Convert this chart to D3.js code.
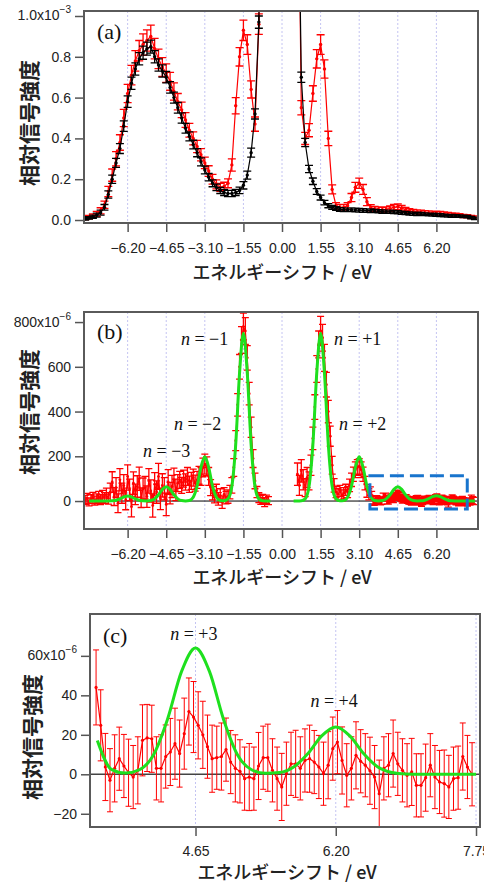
<!DOCTYPE html>
<html>
<head>
<meta charset="utf-8">
<script src="https://cdn.jsdelivr.net/npm/d3@7"></script>
<style>
body { margin: 0; background: #fff; }
svg { display: block; }
</style>
</head>
<body>
<svg width="484" height="883"></svg>
<script>
// ---- (a) raw spectra, one value every 0.155 eV starting at -7.905 eV ----
var aStart = -7.905, aStep = 0.155;
var aRed = [
  0.010, 0.014, 0.020, 0.030, 0.045, 0.075, 0.14, 0.22, 0.30, 0.38, 0.50, 0.62, 0.71, 0.78, 0.83, 0.86, 0.88, 0.90,
  0.84, 0.79, 0.75, 0.72, 0.68, 0.63, 0.58, 0.54, 0.49, 0.44, 0.40, 0.36, 0.32, 0.28,
  0.24, 0.20, 0.175, 0.16, 0.165, 0.18,
  0.27, 0.56, 0.80, 0.93, 0.86, 0.64, 0.47,
  0.96, 2.2, 5, 9, 14, 18, 20, 18, 14, 9, 2.1,
  0.55, 0.40, 0.44, 0.62, 0.79, 0.86, 0.74, 0.40, 0.15,
  0.07, 0.062, 0.062, 0.07, 0.11, 0.16, 0.18, 0.15, 0.09, 0.06,
  0.055, 0.052, 0.05, 0.052, 0.056, 0.062, 0.065, 0.058, 0.05, 0.045, 0.042, 0.04, 0.038, 0.036,
  0.035, 0.034, 0.033, 0.032, 0.03, 0.028, 0.026, 0.024, 0.022, 0.02, 0.018, 0.015, 0.012
];
var aRedErr = [
  0.008, 0.008, 0.01, 0.012, 0.015, 0.018,
  0.025, 0.03, 0.035, 0.038, 0.042, 0.045, 0.048, 0.05, 0.05, 0.052, 0.052, 0.055,
  0.05, 0.048, 0.046, 0.045, 0.044, 0.042, 0.04, 0.038, 0.036, 0.034, 0.032, 0.03, 0.03, 0.028,
  0.026, 0.024, 0.022, 0.02, 0.02, 0.022,
  0.03, 0.04, 0.045, 0.05, 0.048, 0.042, 0.035,
  0.05, 0.05, 0.05, 0.05, 0.05, 0.05, 0.05, 0.05, 0.05, 0.05, 0.05,
  0.035, 0.03, 0.032, 0.038, 0.045, 0.048, 0.045, 0.035, 0.022,
  0.015, 0.014, 0.014, 0.015, 0.02, 0.024, 0.025, 0.024, 0.02, 0.015,
  0.012, 0.012, 0.012, 0.012, 0.013, 0.014, 0.014, 0.013, 0.012, 0.011, 0.01, 0.01, 0.01, 0.01,
  0.01, 0.01, 0.01, 0.01, 0.01, 0.009, 0.009, 0.009, 0.009, 0.008, 0.008, 0.008, 0.008
];
var aBlack = [
  0.006, 0.01, 0.016, 0.024, 0.036, 0.062, 0.125, 0.20, 0.28, 0.35, 0.46, 0.58, 0.67, 0.74, 0.79, 0.82, 0.84, 0.85,
  0.80, 0.76, 0.73, 0.70, 0.65, 0.60, 0.55, 0.50, 0.45, 0.41, 0.37, 0.33, 0.285, 0.245,
  0.21, 0.18, 0.16, 0.145, 0.135, 0.13,
  0.13, 0.135, 0.145, 0.17, 0.22, 0.33, 0.52,
  0.97, 2.5, 6, 11, 16, 20, 22, 20, 16, 11, 2.0,
  0.70, 0.38, 0.25, 0.19, 0.14, 0.11, 0.085, 0.07, 0.062,
  0.056, 0.052, 0.05, 0.05, 0.05, 0.049, 0.048, 0.047, 0.046, 0.045,
  0.044, 0.043, 0.041, 0.04, 0.04, 0.039, 0.038, 0.036, 0.034, 0.032, 0.031, 0.03, 0.029, 0.028,
  0.027, 0.026, 0.025, 0.024, 0.022, 0.021, 0.02, 0.02, 0.019, 0.018, 0.017, 0.012, 0.008
];
var aBlackErr = [
  0.006, 0.006, 0.008, 0.01, 0.012, 0.014,
  0.018, 0.02, 0.022, 0.024, 0.026, 0.028, 0.03, 0.03, 0.03, 0.032, 0.032, 0.032,
  0.03, 0.03, 0.03, 0.028, 0.028, 0.027, 0.026, 0.025, 0.024, 0.022, 0.021, 0.02, 0.02, 0.019,
  0.018, 0.017, 0.016, 0.015, 0.015, 0.015,
  0.015, 0.015, 0.016, 0.018, 0.02, 0.022, 0.025,
  0.03, 0.03, 0.03, 0.03, 0.03, 0.03, 0.03, 0.03, 0.03, 0.03, 0.03,
  0.025, 0.02, 0.018, 0.016, 0.014, 0.012, 0.011, 0.01, 0.01,
  0.009, 0.009, 0.009, 0.009, 0.009, 0.009, 0.009, 0.009, 0.009, 0.009,
  0.008, 0.008, 0.008, 0.008, 0.008, 0.008, 0.008, 0.008, 0.008, 0.008, 0.008, 0.008, 0.008, 0.007,
  0.007, 0.007, 0.007, 0.007, 0.007, 0.007, 0.007, 0.006, 0.006, 0.006, 0.006, 0.006, 0.006
];

// ---- (b) difference spectrum (x10^-6), every 0.0775 eV ----
var bNegStart = -7.905, bPosStart = 0.62, bStep = 0.0775;
var bNeg = [
  5, 12, -4, 8, 15, 2, 10, 18, 6, 22, 14, 30, 12,
  40, 85, 20, 60, -10, 95, 35, 70, 5, 110, 50, -25, 80, 30, 65, 100, 15, 55,
  60, 20, 90, 45, -20, 75, 40, 110, 10, 70, 55, -15, 85, 35, 65, 95, 50,
  80, 95, 70, 100, 85, 110, 75, 90, 105, 80, 95, 115,
  110, 150, 165, 155, 110, 60,
  35, 20, 45, 10, 25, -5, 30, 15, 20, 40,
  70, 150, 270, 430, 600, 720, 780, 760, 640, 480, 330, 190, 90,
  40, 15, 5, 10, -5, 8, 2
];
var bNegErr = [
  20, 22, 18, 20, 24, 20, 22, 25, 22, 26, 24, 28, 26,
  40, 46, 40, 45, 42, 50, 45, 48, 44, 52, 48, 46, 50, 46, 48, 52, 44, 48,
  50, 48, 55, 50, 52, 52, 50, 58, 48, 52, 50, 50, 55, 48, 50, 52, 48,
  38, 38, 36, 38, 36, 40, 36, 38, 38, 36, 38, 40,
  40, 42, 45, 42, 40, 36,
  30, 28, 30, 28, 30, 28, 30, 28, 30, 30,
  35, 40, 45, 50, 55, 60, 60, 60, 55, 50, 45, 40, 35,
  25, 22, 20, 20, 20, 18, 18
];
var bPos = [
  120, 70, 135, 95, 60, 105,
  90, 160, 280, 420, 590, 700, 760, 730, 640, 520, 400, 290, 160,
  70, 40, 30, 45, 25, 35, 50, 40, 70, 95, 120, 140, 150, 155, 140, 120, 80, 45, 30
];
var bPosErr = [
  50, 45, 50, 45, 40, 45,
  40, 45, 50, 55, 60, 60, 65, 60, 60, 55, 50, 45, 40,
  30, 25, 25, 25, 25, 25, 25, 25, 28, 30, 32, 35, 35, 35, 35, 32, 30, 28, 25
];

// ---- (c) high-energy part (x10^-6), every 0.0513 eV from 3.551 eV ----
var cStart = 3.551, cStep = 0.0513;
var cVal = [
  44, 24.8, 3.7, -3.0, 3, 7.9, 4.2, 0.8, -1.4, 2,
  17.2, 18.4, 18, 3, 3, 9, 11.3, 15.5, 10.5, 20.6,
  31.8, 29, 24.8, 20, 14, 7.9, 8.4, 9, 12.5, 6.2,
  3, 1.5, -2.2, -1.4, -2.2, 4.2, 8.4, 8.4, 2, -2.2,
  -6.4, 0.3, 5.3, 5.3, 3, 7, 7.9, 6.2, 3.7, 0.3,
  4.6, 13, 16.3, 7, -0.5, 3, 9.6, 6.6, 4.6, 1.8,
  -1.4, -9.8, 3, 4.6, 10.5, 5.3, 2, -0.5, 1.2, -5.6,
  -5.6, -1.7, 4.6, -1.4, -3.9, -4.7, -6.4, -2.2, -1.7, 9,
  3.7, 0
];
var cErr = [
  19, 18, 17, 16, 17, 16, 16, 17, 16, 17,
  18, 17, 17, 16, 17, 16, 17, 18, 17, 18,
  17, 18, 17, 17, 16, 17, 16, 17, 16, 16,
  17, 16, 16, 17, 16, 17, 16, 17, 16, 16,
  17, 16, 16, 17, 16, 16, 17, 16, 16, 16,
  17, 16, 16, 17, 16, 16, 17, 16, 16, 17,
  16, 17, 16, 16, 17, 16, 16, 16, 17, 16,
  16, 17, 16, 16, 16, 17, 16, 16, 16, 17,
  16, 16
];

// ---- fitted curve (x10^-6), every 0.155 eV ----
var fitStep = 0.155, fitNegStart = -7.75, fitPosStart = 0.465;
var fitNeg = [
  0, 0, 0, 0, 0.1, 0.1, 0.8, 3.4, 9.5, 17.9, 22, 17.9, 9.5, 3.4, 0.8,
  0.5, 2.3, 9.8, 27.8, 52, 64, 52, 27.8, 9.8, 2.3,
  0.6, 2.5, 17.1, 66.5, 150.9, 198, 150.9, 66.5, 17.1, 2.5,
  1.0, 9.6, 64.7, 252, 571.5, 750, 571.5, 252, 64.7, 9.6, 0.8, 0, 0
];
var fitPos = [
  0, 0, 0.8, 9.6, 64.7, 252, 571.5, 750, 571.5, 252, 64.7, 9.6, 1.0,
  2.5, 17.1, 66.5, 150.9, 198, 150.9, 66.5, 17.1, 2.5, 0.6,
  2.3, 9.8, 27.8, 52, 64, 52, 27.8, 9.8, 2.3, 0.5,
  0.9, 3.7, 10.4, 19.5, 24, 19.5, 10.4, 3.7, 0.9, 0.1, 0, 0, 0, 0, 0
];

// ---- ticks and labels ----
var xTicksAB = [-6.2, -4.65, -3.1, -1.55, 0, 1.55, 3.1, 4.65, 6.2];
var xTicksC = [4.65, 6.2, 7.75];
var yTicksA = [0, 0.2, 0.4, 0.6, 0.8, 1.0];
var yTicksB = [0, 200, 400, 600, 800];
var yTicksC = [-20, 0, 20, 40, 60];
var peakLabelsB = [
  { n: "−1", x: -4.06, y: 697 },
  { n: "+1", x: 2.09, y: 697 },
  { n: "−2", x: -4.34, y: 317 },
  { n: "+2", x: 2.29, y: 317 },
  { n: "−3", x: -5.58, y: 197 }
];
var peakLabelsC = [
  { n: "+3", x: 4.37, y: 68 },
  { n: "+4", x: 5.92, y: 34 }
];
var zoomBox = { x0: 3.53, x1: 7.44, y0: -36, y1: 113 };

var RED = "#ff0000", GREEN = "#1ee01e";
var svg = d3.select("svg");
var defs = svg.append("defs");

function series(start, step, vals, errs) {
  return vals.map(function (v, i) {
    return { x: start + i * step, v: v, e: errs ? errs[i] : null };
  });
}

function makePanel(p) {
  var x = d3.scaleLinear().domain(p.xDomain).range([p.left, p.right]);
  var y = d3.scaleLinear().domain(p.yDomain).range([p.bottom, p.top]);
  var g = svg.append("g");
  defs.append("clipPath").attr("id", p.id).append("rect")
    .attr("x", p.left).attr("y", p.top).attr("width", p.right - p.left).attr("height", p.bottom - p.top);

  g.append("g").selectAll("line").data(p.xTicks).join("line")
    .attr("x1", x).attr("x2", x).attr("y1", p.top).attr("y2", p.bottom)
    .attr("stroke", "#c4c4f2").attr("stroke-dasharray", "2,2");

  var xa = g.append("g").attr("transform", "translate(0," + p.bottom + ")")
    .call(d3.axisBottom(x).tickValues(p.xTicks).tickFormat(d3.format(".2f")).tickSize(9).tickPadding(p.xPad || 11));
  var ya = g.append("g").attr("transform", "translate(" + p.left + ",0)")
    .call(d3.axisLeft(y).tickValues(p.yTicks).tickFormat(p.yFormat).tickSize(9).tickPadding(4));
  [xa, ya].forEach(function (a) {
    a.select(".domain").remove();
    a.attr("font-family", "'Liberation Sans', Arial, sans-serif").attr("font-size", 14);
    a.selectAll(".tick line").attr("stroke", "#555").attr("stroke-width", 1.5);
    a.selectAll(".tick text").attr("fill", "#222");
  });
  // top tick carries the exponent
  ya.selectAll(".tick text").filter(function (d) { return d === p.yTicks[p.yTicks.length - 1]; })
    .text(null)
    .each(function (d) {
      var t = d3.select(this);
      t.append("tspan").attr("dy", 4).text(p.yFormat(d) + "x10");
      t.append("tspan").attr("dy", -7).attr("font-size", 10).text(p.exp);
    });

  g.append("text")
    .attr("transform", "translate(" + p.yTitleX + "," + p.yTitleY + ") rotate(-90)")
    .attr("text-anchor", "middle").attr("dominant-baseline", "central")
    .attr("font-family", "'Noto Sans CJK JP', sans-serif").attr("font-size", 21).attr("font-weight", 600)
    .attr("fill", "#222")
    .text("相対信号強度");
  g.append("text")
    .attr("x", p.xTitleX).attr("y", p.xTitleY).attr("text-anchor", "middle")
    .attr("font-family", "'Noto Sans CJK JP', sans-serif").attr("font-size", 18).attr("font-weight", 500)
    .attr("fill", "#222")
    .text("エネルギーシフト / eV");

  var plot = g.append("g").attr("clip-path", "url(#" + p.id + ")");
  return { x: x, y: y, g: g, plot: plot, p: p };
}

function drawFrame(pn) {
  var p = pn.p;
  pn.g.append("rect").attr("x", p.left).attr("y", p.top)
    .attr("width", p.right - p.left).attr("height", p.bottom - p.top)
    .attr("fill", "none").attr("stroke", "#5a5a5a").attr("stroke-width", 2);
  pn.g.append("text").attr("x", p.tagX).attr("y", p.tagY)
    .attr("font-family", "'Liberation Serif', 'Times New Roman', serif").attr("font-size", 22).attr("fill", "#111")
    .text(p.tag);
}

function errorSeries(pn, data, color, capW, r, w) {
  var x = pn.x, y = pn.y;
  var s = pn.plot.append("g");
  s.append("path")
    .attr("d", data.filter(function (d) { return d.v != null; }).map(function (d) {
      var px = x(d.x), yt = y(d.v + d.e), yb = y(d.v - d.e), h = capW / 2;
      return "M" + (px - h) + "," + yt + "H" + (px + h) + "M" + px + "," + yt + "V" + yb +
        "M" + (px - h) + "," + yb + "H" + (px + h);
    }).join(""))
    .attr("fill", "none").attr("stroke", color).attr("stroke-width", w);
  s.append("path").datum(data)
    .attr("d", d3.line().defined(function (d) { return d.v != null; })
      .x(function (d) { return x(d.x); }).y(function (d) { return y(d.v); }))
    .attr("fill", "none").attr("stroke", color).attr("stroke-width", 1.2);
  s.selectAll("circle").data(data.filter(function (d) { return d.v != null; })).join("circle")
    .attr("cx", function (d) { return x(d.x); }).attr("cy", function (d) { return y(d.v); })
    .attr("r", r).attr("fill", color);
}

function fitLine(pn, data) {
  pn.plot.append("path").datum(data)
    .attr("d", d3.line().curve(d3.curveMonotoneX)
      .x(function (d) { return pn.x(d.x); }).y(function (d) { return pn.y(d.v); }))
    .attr("fill", "none").attr("stroke", GREEN).attr("stroke-width", 3).attr("stroke-linejoin", "round");
}

function zeroLine(pn, color, w) {
  pn.plot.append("line")
    .attr("x1", pn.p.left).attr("x2", pn.p.right).attr("y1", pn.y(0)).attr("y2", pn.y(0))
    .attr("stroke", color).attr("stroke-width", w);
}

function peakLabels(pn, labels) {
  labels.forEach(function (d) {
    var t = pn.g.append("text").attr("x", pn.x(d.x)).attr("y", pn.y(d.y))
      .attr("font-family", "'Liberation Serif', 'Times New Roman', serif").attr("font-size", 18).attr("fill", "#111");
    t.append("tspan").attr("font-style", "italic").text("n");
    t.append("tspan").text(" = " + d.n);
  });
}

// ---- panel (a) ----
var pa = makePanel({
  id: "clipA", left: 84, right: 478, top: 11, bottom: 223,
  xDomain: [-7.952, 7.871], yDomain: [-0.0147, 1.0245],
  xTicks: xTicksAB, yTicks: yTicksA, yFormat: d3.format(".1f"), exp: "−3",
  yTitleX: 28, yTitleY: 123, xTitleX: 282, xTitleY: 279,
  tag: "(a)", tagX: 97, tagY: 39
});
errorSeries(pa, series(aStart, aStep, aRed, aRedErr), RED, 8, 1.7, 1.3);
errorSeries(pa, series(aStart, aStep, aBlack, aBlackErr), "#000", 8, 1.7, 1.3);
drawFrame(pa);

// ---- panel (b) ----
var pb = makePanel({
  id: "clipB", left: 84, right: 478, top: 312, bottom: 529,
  xDomain: [-7.952, 7.871], yDomain: [-125, 845],
  xTicks: xTicksAB, yTicks: yTicksB, yFormat: d3.format("d"), exp: "−6",
  yTitleX: 28, yTitleY: 412, xTitleX: 282, xTitleY: 584,
  tag: "(b)", tagX: 97, tagY: 339
});
zeroLine(pb, "#000", 1);
var bData = series(bNegStart, bStep, bNeg, bNegErr)
  .concat([{ x: 0, v: null, e: null }])
  .concat(series(bPosStart, bStep, bPos, bPosErr))
  .concat(series(cStart, cStep, cVal, cErr));
errorSeries(pb, bData, RED, 7, 1.4, 1.3);
fitLine(pb, series(fitNegStart, fitStep, fitNeg));
fitLine(pb, series(fitPosStart, fitStep, fitPos));
pb.g.append("rect")
  .attr("x", pb.x(zoomBox.x0)).attr("y", pb.y(zoomBox.y1))
  .attr("width", pb.x(zoomBox.x1) - pb.x(zoomBox.x0)).attr("height", pb.y(zoomBox.y0) - pb.y(zoomBox.y1))
  .attr("fill", "none").attr("stroke", "#1874cd").attr("stroke-width", 3).attr("stroke-dasharray", "14,6");
peakLabels(pb, peakLabelsB);
drawFrame(pb);

// ---- panel (c) ----
var pc = makePanel({
  id: "clipC", left: 90, right: 480, top: 614, bottom: 827,
  xDomain: [3.484, 7.794], yDomain: [-26.7, 81.2],
  xTicks: xTicksC, yTicks: yTicksC, yFormat: d3.format("d"), exp: "−6",
  yTitleX: 31, yTitleY: 737, xTitleX: 287, xTitleY: 879, xPad: 10,
  tag: "(c)", tagX: 103, tagY: 643
});
zeroLine(pc, "#444", 1.5);
errorSeries(pc, series(cStart, cStep, cVal, cErr), RED, 6, 1.6, 1);
fitLine(pc, series(fitPosStart, fitStep, fitPos).filter(function (d) { return d.x >= 3.55 && d.x <= 7.76; }));
peakLabels(pc, peakLabelsC);
drawFrame(pc);
</script>
</body>
</html>
